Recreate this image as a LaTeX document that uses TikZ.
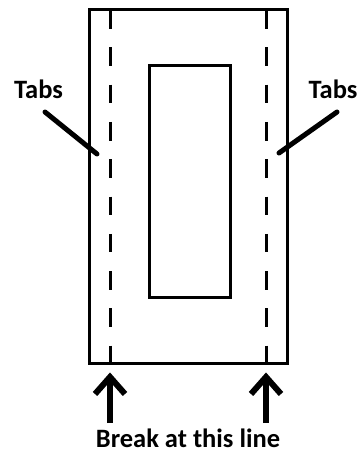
\documentclass[tikz,border=0pt]{standalone}
\usepackage{fontspec}
\setmainfont{Carlito}
\begin{document}
\begin{tikzpicture}[x=1pt,y=-1pt,
  outline/.style={draw=black,line width=3pt},
  inner/.style={draw=black,line width=3pt},
  fold/.style={draw=black,line width=3pt,dash pattern=on 18.6pt off 18.7pt},
  pointer/.style={draw=black,line width=5pt,line cap=round},
  breakarrow/.style={draw=black,line width=6pt},
  label/.style={font=\fontsize{26.5}{30}\selectfont\bfseries,text=black,inner sep=0pt,anchor=base}]
\useasboundingbox (0,0) rectangle (359,453);
\draw[outline] (89,9) rectangle (287,363);
\draw[inner] (149,65) rectangle (230,297);
\coordinate (LT) at (110,10); \coordinate (LB) at (110,362);
\coordinate (RT) at (266,10); \coordinate (RB) at (266,362);
\draw[fold] (LT) -- (LB);
\draw[fold] (RT) -- (RB);
\node[label] (tabsL) at (38.5,98.5) {Tabs};
\node[label] (tabsR) at (333,98.5) {Tabs};
\coordinate (pL1) at (45,112); \coordinate (pL2) at (97,154);
\coordinate (pR1) at (337,112); \coordinate (pR2) at (279,153);
\draw[pointer] (pL1) -- (pL2);
\draw[pointer] (pR1) -- (pR2);
\coordinate (aL) at (110,423); \coordinate (aLt) at (110,377);
\coordinate (aR) at (266,423); \coordinate (aRt) at (266,377);
\draw[breakarrow] (aL) -- (aLt);
\draw[breakarrow] (aR) -- (aRt);
\draw[breakarrow,miter limit=10] (95,394) -- (110,377) -- (125,394);
\draw[breakarrow,miter limit=10] (251,394) -- (266,377) -- (281,394);
\node[label] (brk) at (188,447.5) {Break at this line};
\end{tikzpicture}
\end{document}
